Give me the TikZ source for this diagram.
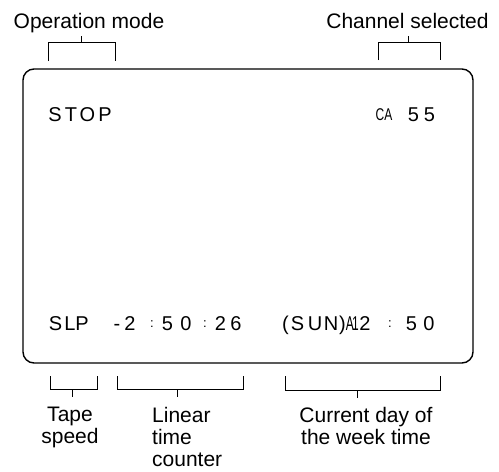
\documentclass[tikz,border=0pt]{standalone}
\usepackage{fontspec}
\setmainfont{Liberation Sans}
\usepackage{graphicx}
\begin{document}
\begin{tikzpicture}[x=1pt,y=-1pt,
  lbl/.style={font=\fontsize{21}{22}\selectfont, inner sep=0pt},
  disp/.style={font=\fontsize{20}{20}\selectfont, inner sep=0pt, anchor=base},
  colon/.style={font=\fontsize{13}{13}\selectfont, inner sep=0pt, anchor=base},
  brk/.style={line width=1pt},
  scr/.style={line width=1.4pt, rounded corners=11pt}]
\useasboundingbox (0,0) rectangle (499,472);
% screen
\draw[scr] (23,69) rectangle (473,363);
% top labels
\node[lbl, anchor=base] (opm) at (89,28) {Operation mode};
\node[lbl, anchor=base] (chs) at (407.5,28) {Channel selected};
% bottom labels
\node[lbl, anchor=north, align=center] (tape) at (70,407) {Tape\\speed};
\node[lbl, anchor=north west, align=left] (lin) at (152,407) {Linear\\time\\counter};
\node[lbl, anchor=north, align=center] (cur) at (366,407) {Current day of\\the week time};
% brackets
\draw[brk] (48,61) -- (48,42) -- (115,42) -- (115,61);
\draw[brk] (81,42) -- (81,36);
\draw[brk] (378,60) -- (378,42) -- (440,42) -- (440,60);
\draw[brk] (408,42) -- (408,36);
\draw[brk] (50,376) -- (50,389) -- (97,389) -- (97,376);
\draw[brk] (72,389) -- (72,397);
\draw[brk] (117,376) -- (117,389) -- (243,389) -- (243,376);
\draw[brk] (177,389) -- (177,397);
\draw[brk] (285,376) -- (285,390) -- (440,390) -- (440,376);
\draw[brk] (357,390) -- (357,398);
% display text, top line
\foreach \c/\x [count=\i] in {S/55,T/71,O/87.5,P/105,5/413.5,5/429.5}
  \node[disp] (t\i) at (\x,121.5) {\c};
\node[disp] (ca) at (384,120) {\scalebox{0.6}[0.85]{CA}};
% display text, bottom line
\foreach \c/\x [count=\i] in {S/55.5,L/70,P/82,-/117,2/130,5/167.5,0/186,2/220.5,6/236,
  {(}/285.5,S/297.5,U/315,N/331,{)}/342.5,2/365,5/411.5,0/429}
  \node[disp] (b\i) at (\x,330) {\c};
\node[disp] (am) at (350,330) {\scalebox{0.6}[1]{A}};
\node[disp] (one) at (355.5,330) {\scalebox{0.6}[1]{1}};
\foreach \x [count=\i] in {152,205,390}
  \node[colon] (col\i) at (\x,327) {:};
\end{tikzpicture}
\end{document}
